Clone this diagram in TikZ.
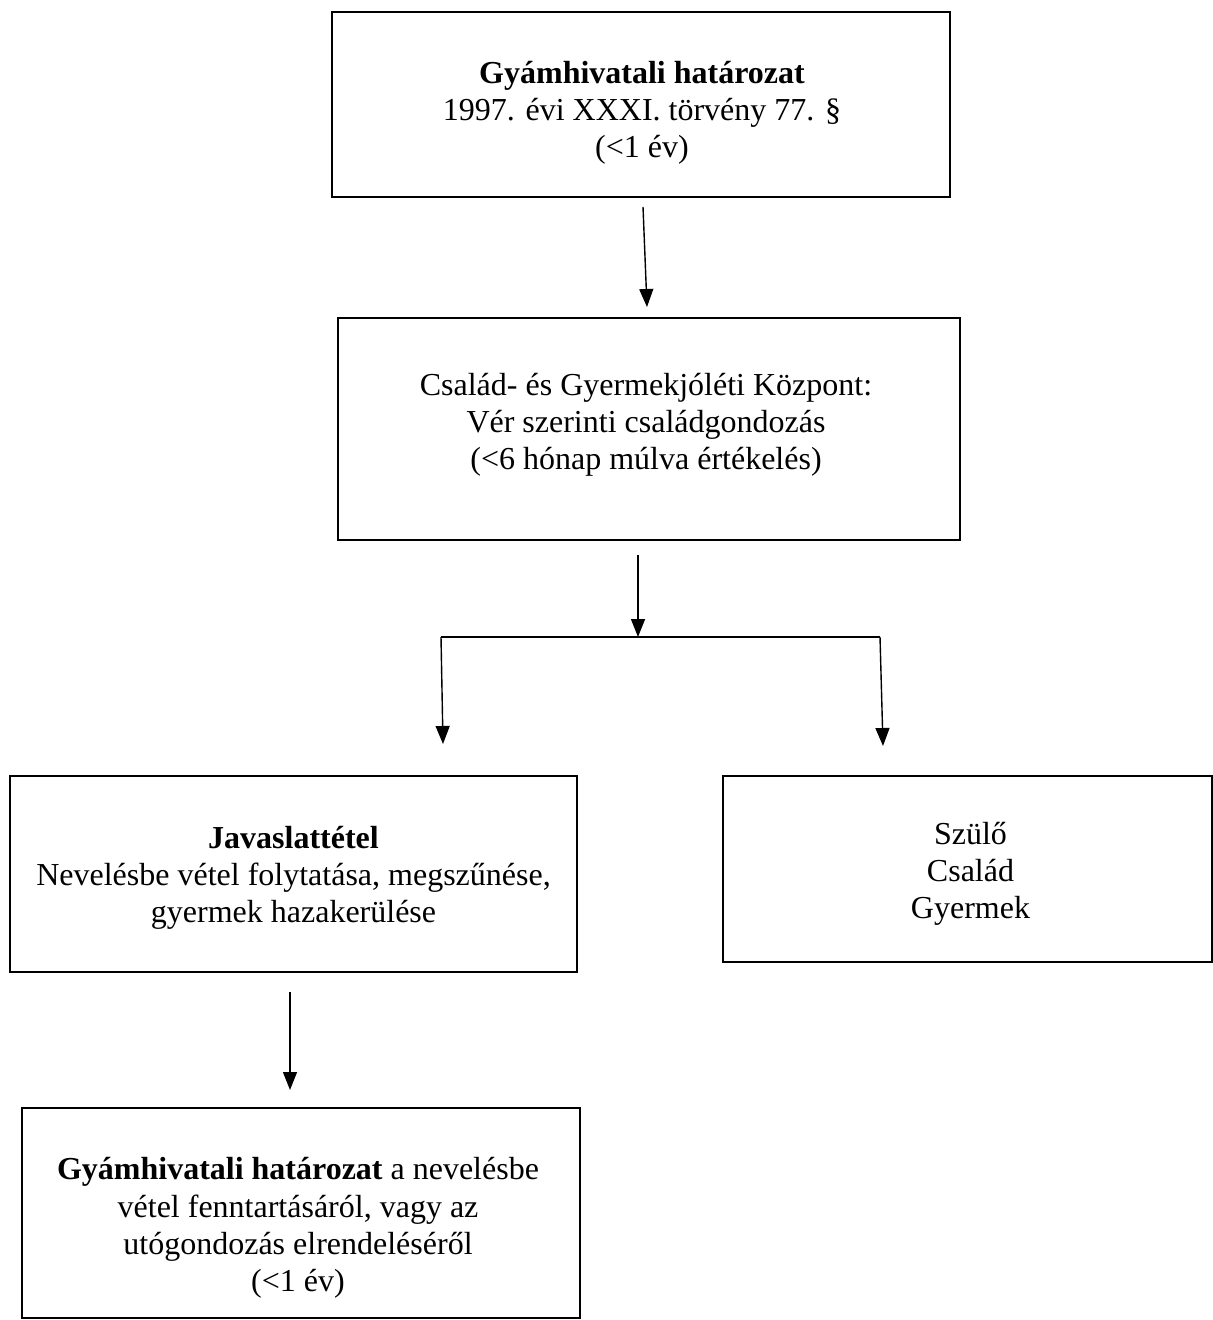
\documentclass[tikz,border=0pt]{standalone}
\usepackage{fontspec}
\setmainfont{Liberation Serif}
\usetikzlibrary{arrows.meta,calc}
\begin{document}
\begin{tikzpicture}[x=0.5pt,y=-0.5pt,
  box/.style={draw, line width=1pt, rectangle, inner sep=0pt},
  txt/.style={align=center, inner sep=0pt, font=\fontsize{16}{18.6}\selectfont},
  arr/.style={line width=0.7pt, -{Triangle[width=7pt,length=9pt]}},
  ln/.style={line width=0.7pt}]
\useasboundingbox (0,0) rectangle (1213,1320);
\node[box, minimum width=309pt, minimum height=92.5pt] (b1) at (641,104.5) {};
\node[txt] (t1) at ($(b1.center)+(1,8)$)
  {\textbf{Gyámhivatali határozat}\\1997. évi XXXI. törvény 77. §\\(<1 év)};
\node[box, minimum width=311pt, minimum height=111pt] (b2) at (649,429) {};
\node[txt] (t2) at ($(b2.center)+(-3,-4)$)
  {Család- és Gyermekjóléti Központ:\\Vér szerinti családgondozás\\(<6 hónap múlva értékelés)};
\node[box, minimum width=283.5pt, minimum height=98pt] (b3) at (293.5,874) {};
\node[txt] (t3) at ($(b3.center)+(0,4)$)
  {\textbf{Javaslattétel}\\Nevelésbe vétel folytatása, megszűnése,\\gyermek hazakerülése};
\node[box, minimum width=244.5pt, minimum height=93pt] (b4) at (967.5,869) {};
\node[txt] (t4) at ($(b4.center)+(3,5)$)
  {Szülő\\Család\\Gyermek};
\node[box, minimum width=279pt, minimum height=105pt] (b5) at (301,1213) {};
\node[txt] (t5) at ($(b5.center)+(-3,15)$)
  {\textbf{Gyámhivatali határozat} a nevelésbe\\vétel fenntartásáról, vagy az\\utógondozás elrendeléséről\\(<1 év)};
\coordinate (a1s) at (643,207);
\coordinate (a1e) at (647,307);
\coordinate (a2s) at (638,555);
\coordinate (j) at (638,637);
\coordinate (jl) at (441,637);
\coordinate (jr) at (880,637);
\coordinate (le) at (443,744);
\coordinate (re) at (883,746);
\coordinate (a4s) at (290,992);
\coordinate (a4e) at (290,1090);
\draw[arr] (a1s) -- (a1e);
\draw[arr] (a2s) -- (j);
\draw[ln] (jl) -- (jr);
\draw[arr] (jl) -- (le);
\draw[arr] (jr) -- (re);
\draw[arr] (a4s) -- (a4e);
\end{tikzpicture}
\end{document}
